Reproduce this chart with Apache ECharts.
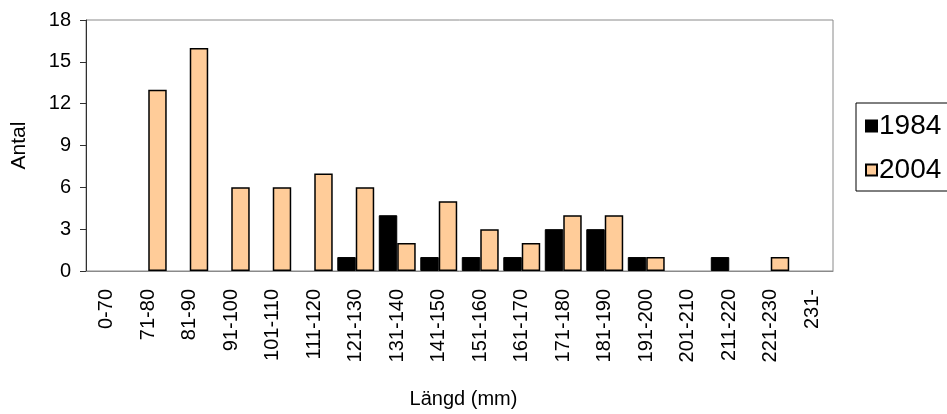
<!DOCTYPE html>
<html>
<head>
<meta charset="utf-8">
<script src="https://cdn.jsdelivr.net/npm/echarts@6/dist/echarts.min.js"></script>
<style>
  html, body { margin: 0; padding: 0; background: #ffffff; }
  #chart { width: 947px; height: 414px; }
</style>
</head>
<body>
<div id="chart"></div>
<script>
// Length classes (mm)
const lengthClasses = ['0-70', '71-80', '81-90', '91-100', '101-110', '111-120', '121-130',
  '131-140', '141-150', '151-160', '161-170', '171-180', '181-190', '191-200',
  '201-210', '211-220', '221-230', '231-'];

// Number of fish per length class
const count1984 = [0, 0, 0, 0, 0, 0, 1, 4, 1, 1, 1, 3, 3, 1, 0, 1, 0, 0];
const count2004 = [0, 13, 16, 6, 6, 7, 6, 2, 5, 3, 2, 4, 4, 1, 0, 0, 1, 0];

const yTicks = [0, 3, 6, 9, 12, 15, 18];

const FONT = '"Liberation Sans", Arial, sans-serif';

// Empty classes draw no bar at all
const asBars = arr => arr.map(v => (v === 0 ? null : v));

const chart = echarts.init(document.getElementById('chart'), null, { renderer: 'canvas' });

chart.setOption({
  backgroundColor: '#ffffff',
  animation: false,
  textStyle: { fontFamily: FONT, color: '#000' },
  grid: {
    left: 86, top: 20, right: 114, bottom: 140,
    show: true, borderColor: '#8a8a8a', borderWidth: 1, backgroundColor: 'transparent'
  },
  legend: {
    orient: 'vertical',
    left: 856, top: 103,
    padding: [9, 10, 7, 9],
    itemGap: 16,
    itemWidth: 11, itemHeight: 11,
    icon: 'rect',
    borderColor: '#000', borderWidth: 1, backgroundColor: '#fff',
    textStyle: { fontFamily: FONT, fontSize: 28, color: '#000', padding: [0, 0, 0, -3] },
    data: ['1984', '2004']
  },
  xAxis: {
    type: 'category',
    data: lengthClasses,
    name: 'Längd (mm)',
    nameLocation: 'middle',
    nameGap: 118,
    nameTextStyle: { fontFamily: FONT, fontSize: 20, color: '#000', padding: [0, 0, 0, 8] },
    axisLine: { lineStyle: { color: '#8a8a8a', width: 1 } },
    axisTick: { show: false },
    axisLabel: { rotate: 90, margin: 18, fontFamily: FONT, fontSize: 20, color: '#000', interval: 0 },
    splitLine: { show: false }
  },
  yAxis: {
    type: 'value',
    min: yTicks[0], max: yTicks[yTicks.length - 1], interval: 3,
    name: 'Antal',
    nameLocation: 'middle',
    nameRotate: 90,
    nameGap: 56,
    nameTextStyle: { fontFamily: FONT, fontSize: 21, color: '#000' },
    axisLine: { show: true, lineStyle: { color: '#303030', width: 1 } },
    axisTick: { show: true, length: 6, lineStyle: { color: '#303030' } },
    axisLabel: { margin: 15, fontFamily: FONT, fontSize: 20, color: '#000' },
    splitLine: { show: false }
  },
  series: [
    {
      name: '1984',
      type: 'bar',
      data: asBars(count1984),
      barGap: '0%',
      barCategoryGap: '11%',
      itemStyle: { color: '#000000', borderColor: '#000000', borderWidth: 1 }
    },
    {
      name: '2004',
      type: 'bar',
      data: asBars(count2004),
      barGap: '0%',
      barCategoryGap: '11%',
      itemStyle: { color: '#FFCC99', borderColor: '#000000', borderWidth: 1.5 }
    }
  ]
});
</script>
</body>
</html>
